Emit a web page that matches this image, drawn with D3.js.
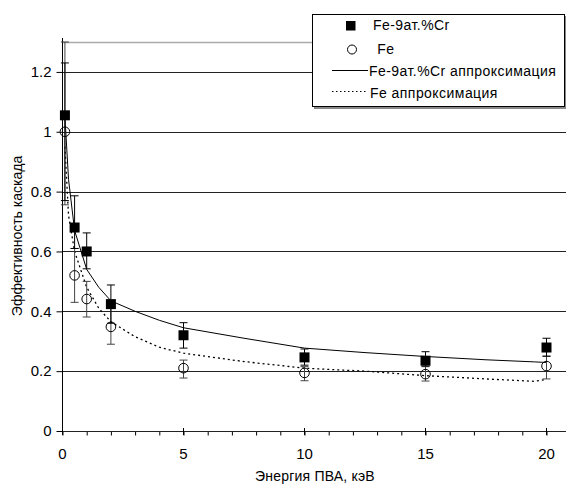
<!DOCTYPE html>
<html lang="ru">
<head>
  <meta charset="UTF-8">
  <title>Эффективность каскада</title>
  <script src="https://d3js.org/d3.v7.min.js"></script>
  <style>
    body { margin: 0; background: #fff; }
    text { font-family: "Liberation Sans", Arial, sans-serif; fill: #000; }
  </style>
</head>
<body>
  <div id="chart"></div>
  <script>
    // Data
    var energy = [0.1, 0.5, 1, 2, 5, 10, 15, 20];
    var feCr = [1.055, 0.68, 0.60, 0.424, 0.32, 0.246, 0.235, 0.279];
    var feCrLow = [0.77, 0.61, 0.542, 0.36, 0.277, 0.22, 0.217, 0.25];
    var feCrHigh = [1.23, 0.786, 0.662, 0.488, 0.362, 0.274, 0.265, 0.31];
    var fe = [1.0, 0.52, 0.441, 0.348, 0.21, 0.194, 0.19, 0.217];
    var feLow = [0.756, 0.43, 0.381, 0.29, 0.177, 0.168, 0.167, 0.174];
    var feHigh = [1.3, 0.61, 0.5, 0.41, 0.237, 0.215, 0.215, 0.25];

    // approximation curves
    var fitX = [0.1, 0.25, 0.5, 1, 1.5, 2, 3, 4, 5, 7.5, 10, 12.5, 15, 17.5, 19.5, 20];
    var feCrFit = [1.05, 0.84, 0.67, 0.54, 0.48, 0.435, 0.40, 0.37, 0.345, 0.31, 0.277, 0.262, 0.249, 0.238, 0.231, 0.229];
    var feFit = [0.95, 0.72, 0.60, 0.48, 0.41, 0.365, 0.315, 0.28, 0.26, 0.232, 0.21, 0.20, 0.185, 0.174, 0.166, 0.172];

    var yTicks = [0, 0.2, 0.4, 0.6, 0.8, 1, 1.2];
    var xTicks = [0, 5, 10, 15, 20];
    var legendLabels = ["Fe-9ат.%Cr", " Fe", "Fe-9ат.%Cr аппроксимация", "Fe аппроксимация"];

    var W = 566, H = 486;
    var plotLeft = 62.5, plotRight = 566, plotTop = 42, plotBottom = 431;

    var svg = d3.select("#chart").append("svg")
      .attr("width", W).attr("height", H);

    var x = d3.scaleLinear().domain([0, 20]).range([plotLeft, 546.5]);
    var y = d3.scaleLinear().domain([0, 1.3]).range([plotBottom, plotTop]);

    // grid lines
    svg.append("g").selectAll("line")
      .data(yTicks.filter(function(d) { return d > 0; }))
      .enter().append("line")
        .attr("x1", plotLeft).attr("x2", plotRight)
        .attr("y1", function(d) { return Math.round(y(d)) + 0.5; })
        .attr("y2", function(d) { return Math.round(y(d)) + 0.5; })
        .attr("stroke", "#222").attr("stroke-width", 1);

    // top border (gray)
    svg.append("line")
      .attr("x1", plotLeft).attr("x2", plotRight)
      .attr("y1", Math.round(y(1.3)) + 0.5).attr("y2", Math.round(y(1.3)) + 0.5)
      .attr("stroke", "#aaa").attr("stroke-width", 1.5);

    // y axis
    var yAxis = svg.append("g")
      .attr("transform", "translate(" + plotLeft + ",0)")
      .call(d3.axisLeft(y).tickValues(yTicks).tickSize(6).tickPadding(5)
        .tickFormat(function(d) { return d3.format("~g")(d); }));
    yAxis.select(".domain").remove();
    yAxis.selectAll("text").style("font-size", "15px").style("font-family", "Liberation Sans, Arial, sans-serif");
    svg.append("line")
      .attr("x1", plotLeft).attr("x2", plotLeft)
      .attr("y1", plotBottom).attr("y2", 38)
      .attr("stroke", "#000");

    // x axis
    var xAxis = svg.append("g")
      .attr("transform", "translate(0," + (Math.round(plotBottom) + 0.5) + ")")
      .call(d3.axisBottom(x).tickValues(d3.range(0, 21, 1)).tickSize(4).tickFormat(""));
    xAxis.select(".domain").remove();
    svg.append("line")
      .attr("x1", plotLeft).attr("x2", plotRight)
      .attr("y1", Math.round(plotBottom) + 0.5).attr("y2", Math.round(plotBottom) + 0.5)
      .attr("stroke", "#222");
    svg.append("g").selectAll("line")
      .data(xTicks).enter().append("line")
        .attr("x1", function(d) { return x(d); }).attr("x2", function(d) { return x(d); })
        .attr("y1", plotBottom - 3).attr("y2", plotBottom + 4)
        .attr("stroke", "#000");
    svg.append("g").selectAll("text")
      .data(xTicks).enter().append("text")
        .attr("x", function(d) { return x(d); })
        .attr("y", 459)
        .attr("text-anchor", "middle")
        .style("font-size", "15px")
        .text(function(d) { return d; });

    // axis titles
    svg.append("text")
      .attr("x", 315).attr("y", 481)
      .attr("text-anchor", "middle")
      .style("font-size", "14px")
      .style("letter-spacing", "0.2px")
      .text("Энергия ПВА, кэВ");
    svg.append("text")
      .attr("transform", "translate(22," + 236 + ") rotate(-90)")
      .attr("text-anchor", "middle")
      .style("font-size", "14px")
      .text("Эффективность каскада");

    // approximation curves
    var line = d3.line()
      .x(function(d) { return x(d[0]); })
      .y(function(d) { return y(d[1]); });
    svg.append("path")
      .datum(d3.zip(fitX, feCrFit))
      .attr("d", line)
      .attr("fill", "none").attr("stroke", "#000").attr("stroke-width", 1);
    svg.append("path")
      .datum(d3.zip(fitX, feFit))
      .attr("d", line)
      .attr("fill", "none").attr("stroke", "#000").attr("stroke-width", 1.3)
      .attr("stroke-dasharray", "2,3");

    // error bars
    function errorBars(lo, hi, color) {
      var g = svg.append("g").attr("stroke", color).attr("stroke-width", 1);
      energy.forEach(function(e, i) {
        var cx = x(e);
        g.append("line").attr("x1", cx).attr("x2", cx).attr("y1", y(lo[i])).attr("y2", y(hi[i]));
        g.append("line").attr("x1", cx - 4).attr("x2", cx + 4).attr("y1", y(lo[i])).attr("y2", y(lo[i]));
        g.append("line").attr("x1", cx - 4).attr("x2", cx + 4).attr("y1", y(hi[i])).attr("y2", y(hi[i]));
      });
    }
    errorBars(feLow, feHigh, "#444");
    errorBars(feCrLow, feCrHigh, "#000");

    // markers
    svg.append("g").selectAll("circle")
      .data(d3.zip(energy, fe)).enter().append("circle")
        .attr("cx", function(d) { return x(d[0]); })
        .attr("cy", function(d) { return y(d[1]); })
        .attr("r", 4.8)
        .attr("fill", "none").attr("stroke", "#000").attr("stroke-width", 1);
    svg.append("g").selectAll("rect")
      .data(d3.zip(energy, feCr)).enter().append("rect")
        .attr("x", function(d) { return x(d[0]) - 5; })
        .attr("y", function(d) { return y(d[1]) - 5; })
        .attr("width", 10).attr("height", 10)
        .attr("fill", "#000");

    // legend
    var lg = svg.append("g");
    lg.append("rect").attr("x", 314).attr("y", 16).attr("width", 253).attr("height", 93).attr("fill", "#888");
    lg.append("rect").attr("x", 312.5).attr("y", 14.5).attr("width", 252).attr("height", 92)
      .attr("fill", "#fff").attr("stroke", "#000").attr("stroke-width", 1);
    lg.append("rect").attr("x", 346).attr("y", 21).attr("width", 9.5).attr("height", 9.5).attr("fill", "#000");
    lg.append("circle").attr("cx", 352).attr("cy", 49.5).attr("r", 4.5)
      .attr("fill", "none").attr("stroke", "#000");
    lg.append("line").attr("x1", 332).attr("x2", 368).attr("y1", 70.5).attr("y2", 70.5).attr("stroke", "#000");
    lg.append("line").attr("x1", 332).attr("x2", 368).attr("y1", 91.5).attr("y2", 91.5)
      .attr("stroke", "#000").attr("stroke-dasharray", "1.5,2.5");
    var legendPos = [[373, 30], [373, 54], [369, 76], [370, 98]];
    lg.selectAll("text.lbl").data(legendLabels).enter().append("text")
      .attr("class", "lbl")
      .attr("x", function(d, i) { return legendPos[i][0]; })
      .attr("y", function(d, i) { return legendPos[i][1]; })
      .attr("xml:space", "preserve")
      .style("white-space", "pre")
      .style("font-size", "14px")
      .style("letter-spacing", "0.45px")
      .text(function(d) { return d; });
  </script>
</body>
</html>
